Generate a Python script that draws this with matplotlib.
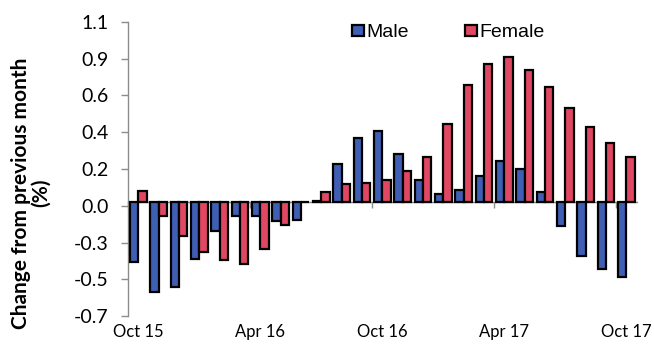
import matplotlib
matplotlib.use("Agg")
import matplotlib.pyplot as plt
import numpy as np

# Monthly change from previous month (%), Oct 2015 to Oct 2017
months = ["Oct 15", "Nov 15", "Dec 15", "Jan 16", "Feb 16", "Mar 16", "Apr 16",
          "May 16", "Jun 16", "Jul 16", "Aug 16", "Sep 16", "Oct 16", "Nov 16",
          "Dec 16", "Jan 17", "Feb 17", "Mar 17", "Apr 17", "May 17", "Jun 17",
          "Jul 17", "Aug 17", "Sep 17", "Oct 17"]
male = [-0.37, -0.55, -0.52, -0.35, -0.18, -0.09, -0.09, -0.12, -0.11, 0.003,
        0.23, 0.39, 0.43, 0.29, 0.13, 0.05, 0.07, 0.16, 0.25, 0.20, 0.06,
        -0.15, -0.33, -0.41, -0.46]
female = [0.065, -0.09, -0.21, -0.31, -0.36, -0.38, -0.29, -0.145, -0.005, 0.057,
          0.106, 0.116, 0.133, 0.188, 0.271, 0.476, 0.714, 0.843, 0.888, 0.808,
          0.702, 0.571, 0.459, 0.359, 0.276]

ytick_vals = [-0.7, -0.475, -0.25, -0.025, 0.2, 0.425, 0.65, 0.875, 1.1]
ytick_labels = ["-0.7", "-0.5", "-0.3", "0.0", "0.2", "0.4", "0.6", "0.9", "1.1"]
label_every = 6

blue = "#3F5FB4"
red = "#DF4762"
grey = "#8C8C8C"
tick_font = "Lato"

fig = plt.figure(figsize=(6.54, 3.47), dpi=100)
ax = fig.add_axes([128 / 654, 1 - 316 / 347, (636.5 - 128) / 654, (316 - 22) / 347])

x = np.arange(len(months))
w = 0.41
ax.bar(x - w / 2, male, width=w, color=blue, edgecolor="black", linewidth=1.6,
       label="Male", zorder=3)
ax.bar(x + w / 2, female, width=w, color=red, edgecolor="black", linewidth=1.6,
       label="Female", zorder=3)

ax.set_xlim(-0.5, len(months) - 0.5)
ax.set_ylim(-0.7, 1.1)

# Category axis crossing at zero with tick marks between every sixth month
for s in ["top", "right"]:
    ax.spines[s].set_visible(False)
ax.spines["bottom"].set_position(("data", 0))
ax.spines["bottom"].set_color(grey)
ax.spines["bottom"].set_linewidth(1.0)
ax.spines["bottom"].set_zorder(2)
ax.spines["left"].set_color(grey)
ax.spines["left"].set_linewidth(1.0)
ax.set_xticks(np.arange(0, len(months), label_every) - 0.5)
ax.set_xticklabels([])
ax.tick_params(axis="x", length=4, color=grey, width=1.0, direction="out")

ax.set_yticks(ytick_vals)
ax.set_yticklabels(ytick_labels, fontsize=14, family=tick_font)
ax.tick_params(axis="y", length=5, color=grey, width=1.0, pad=9)

# Month labels along the bottom of the plot area
sec = ax.secondary_xaxis("bottom")
sec.set_xticks(x[::label_every])
sec.set_xticklabels(months[::label_every], fontsize=12, family=tick_font)
sec.tick_params(length=0, pad=6)
sec.spines["bottom"].set_visible(False)

fig.text(31 / 654, 1 - 193 / 347, "Change from previous month\n(%)",
         rotation=90, ha="center", va="center", fontsize=15, fontweight="bold",
         family=tick_font, linespacing=1.0)

ax.legend(loc="upper left", bbox_to_anchor=(352 / 654, 1 - 24 / 347),
          bbox_transform=fig.transFigure, ncol=2, frameon=False,
          prop={"family": "Liberation Sans", "size": 14},
          handlelength=0.62, handleheight=0.5, handletextpad=0.12,
          columnspacing=2.9, borderaxespad=0, borderpad=0)

fig.savefig("out.png", dpi=100)
